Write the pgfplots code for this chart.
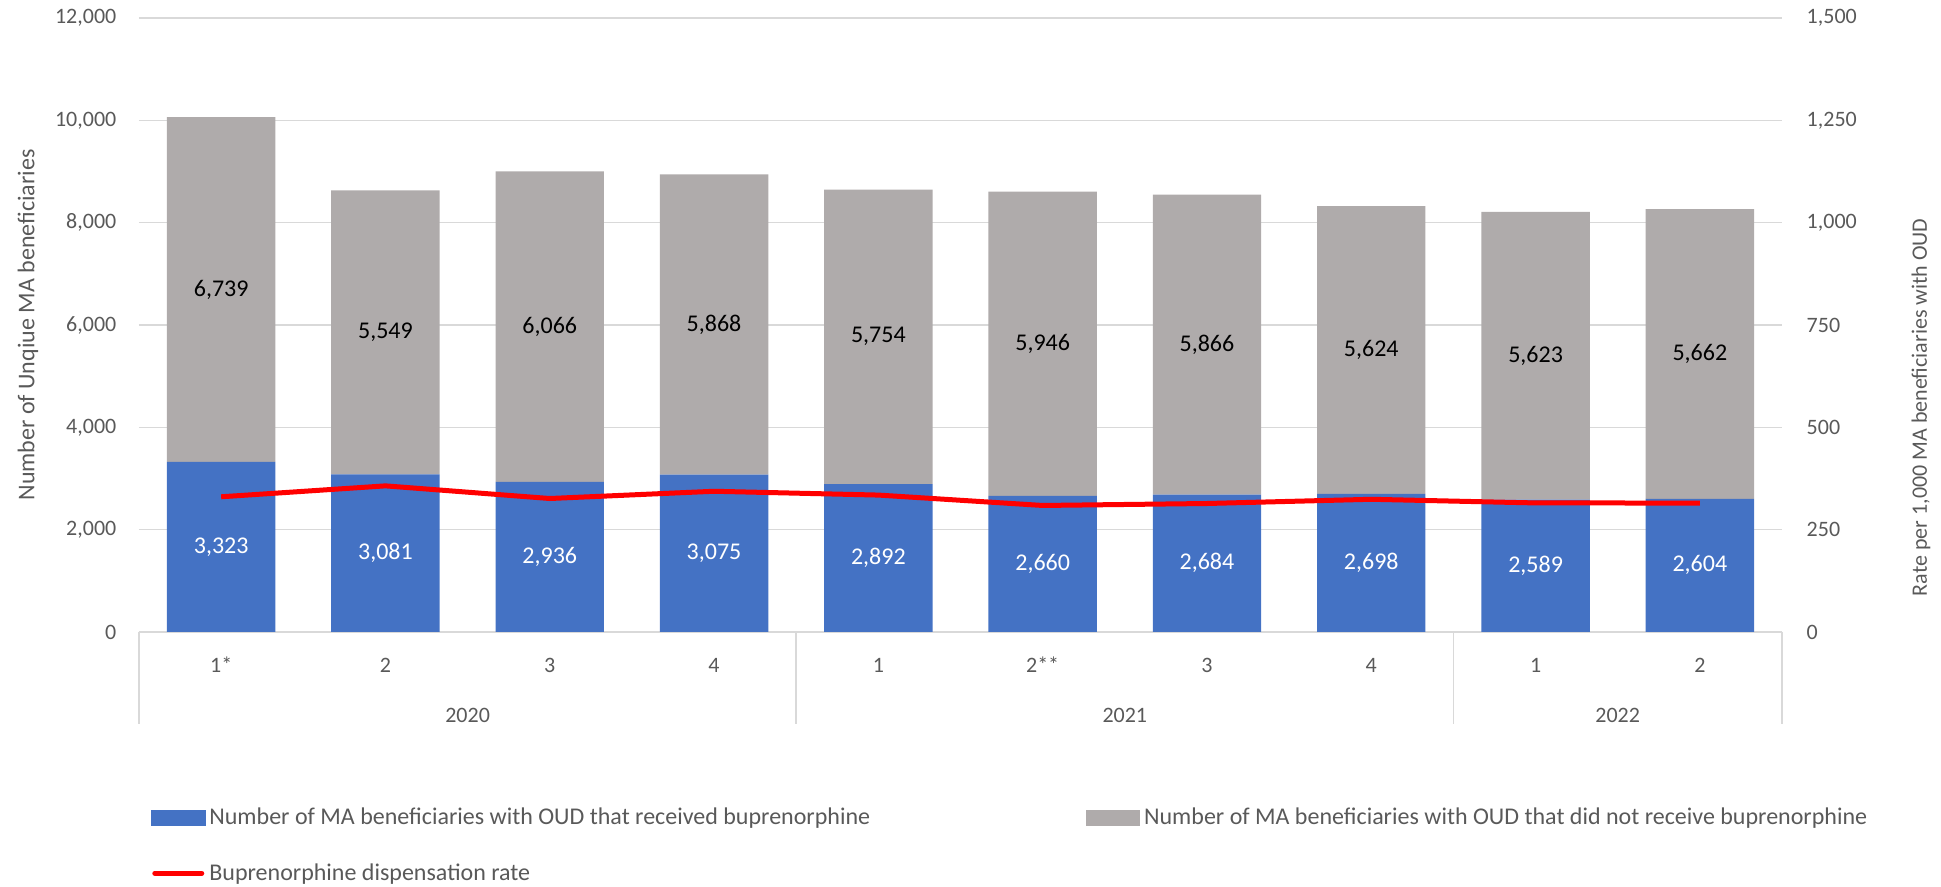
\documentclass[border=0pt]{standalone}
\usepackage{pgfplots}
\usepackage{pgfplotstable}
\pgfplotsset{compat=1.18}
\usepackage{fontspec}
\setmainfont{Carlito}
\definecolor{cblue}{HTML}{4472C4}
\definecolor{cgray}{HTML}{AFABAB}
\definecolor{cred}{HTML}{FF0000}
\definecolor{tickc}{HTML}{595959}
\definecolor{gridc}{HTML}{D9D9D9}
\pgfplotstableread{
x rec notrec rate
0 3323 6739 330.3
1 3081 5549 357.0
2 2936 6066 326.1
3 3075 5868 343.8
4 2892 5754 334.5
5 2660 5946 309.1
6 2684 5866 313.9
7 2698 5624 324.2
8 2589 5623 315.3
9 2604 5662 315.0
}\datatable
\begin{document}
\begin{tikzpicture}[font=\fontsize{11}{13}\selectfont]
\useasboundingbox (0,0) rectangle (970.5pt,443.5pt);
\pgfplotsset{
  common/.style={
    at={(69.5pt,127.5pt)}, anchor=south west,
    scale only axis, width=821.5pt, height=307pt,
    xmin=-0.5, xmax=9.5,
    scaled y ticks=false,
    /pgf/number format/.cd, 1000 sep={,}, assume math mode=true, /pgfplots/.cd,
  },
}
\begin{axis}[common,
  ymin=0, ymax=12000,
  ybar stacked, bar width=0.66,
  clip=false,
  xtick={0,...,9},
  xticklabels={1*,2,3,4,1,2**,3,4,1,2},
  ytick={0,2000,...,12000},
  axis x line*=bottom, axis y line*=left,
  x axis line style={draw=gridc, line width=0.75pt},
  y axis line style={draw=none},
  major tick length=0pt,
  xtick style={draw=none}, ytick style={draw=none},
  ymajorgrids, grid style={gridc, line width=0.75pt},
  xticklabel style={text=tickc, anchor=center, yshift=-16.5pt},
  yticklabel style={text=tickc, anchor=east, xshift=-7.8pt},
  ylabel={Number of Unqiue MA beneficiaries},
  every axis y label/.style={at={(axis description cs:-0.0676,0.5)}, rotate=90, anchor=center, text=tickc, font=\fontsize{12}{14}\selectfont},
]
\addplot[fill=cblue, draw=none] table[x=x, y=rec]{\datatable};
\addplot[fill=cgray, draw=none] table[x=x, y=notrec]{\datatable};
\draw[gridc, line width=0.75pt] (axis cs:-0.5,0) -- ([yshift=-46pt]axis cs:-0.5,0);
\draw[gridc, line width=0.75pt] (axis cs:3.5,0) -- ([yshift=-46pt]axis cs:3.5,0);
\draw[gridc, line width=0.75pt] (axis cs:7.5,0) -- ([yshift=-46pt]axis cs:7.5,0);
\draw[gridc, line width=0.75pt] (axis cs:9.5,0) -- ([yshift=-46pt]axis cs:9.5,0);
\node[text=tickc, yshift=-41.8pt] at (axis cs:1.5,0) {2020};
\node[text=tickc, yshift=-41.8pt] at (axis cs:5.5,0) {2021};
\node[text=tickc, yshift=-41.8pt] at (axis cs:8.5,0) {2022};
\end{axis}
% segment value labels, centred in each segment
\begin{axis}[common, ymin=0, ymax=12000, hide axis, clip=false,
  nodes near coords={\pgfmathprintnumber{\pgfplotspointmeta}},
  nodes near coords style={anchor=center, font=\fontsize{12}{14}\selectfont},
  point meta=explicit]
\addplot[draw=none, mark=none, nodes near coords style={text=white}]
  table[x=x, y expr=\thisrow{rec}/2, meta=rec]{\datatable};
\addplot[draw=none, mark=none, nodes near coords style={text=black}]
  table[x=x, y expr=\thisrow{rec}+\thisrow{notrec}/2, meta=notrec]{\datatable};
\end{axis}
\begin{axis}[common,
  ymin=0, ymax=1500,
  ytick={0,250,...,1500},
  axis x line=none, axis y line*=right,
  y axis line style={draw=none},
  major tick length=0pt, ytick style={draw=none},
  yticklabel style={text=tickc, anchor=west, xshift=8.8pt},
  ylabel={Rate per 1,000 MA beneficiaries with OUD},
  every axis y label/.style={at={(axis description cs:1.0846,0.366)}, rotate=90, anchor=center, text=tickc, font=\fontsize{11}{13}\selectfont},
  legend columns=2,
  legend cell align=left,
  legend style={at={(axis description cs:0.0073,-0.279)}, anchor=north west, draw=none, fill=none, inner sep=0pt,
    text=tickc, row sep=14pt, font=\fontsize{12}{14}\selectfont,
    /tikz/every even column/.append style={column sep=106pt}},
]
\addlegendimage{legend image code/.code={\fill[cblue] (0pt,-3.75pt) rectangle (26.6pt,3.75pt);}}
\addlegendentry{Number of MA beneficiaries with OUD that received buprenorphine}
\addlegendimage{legend image code/.code={\fill[cgray] (0pt,-3.75pt) rectangle (26.6pt,3.75pt);}}
\addlegendentry{Number of MA beneficiaries with OUD that did not receive buprenorphine}
\addplot[cred, line width=2.5pt, mark=none, line join=round,
  legend image code/.code={\draw[cred, line width=2.5pt, line cap=round] (1.5pt,0pt) -- (25pt,0pt);}]
  table[x=x, y=rate]{\datatable};
\addlegendentry{Buprenorphine dispensation rate}
\end{axis}
\end{tikzpicture}
\end{document}
